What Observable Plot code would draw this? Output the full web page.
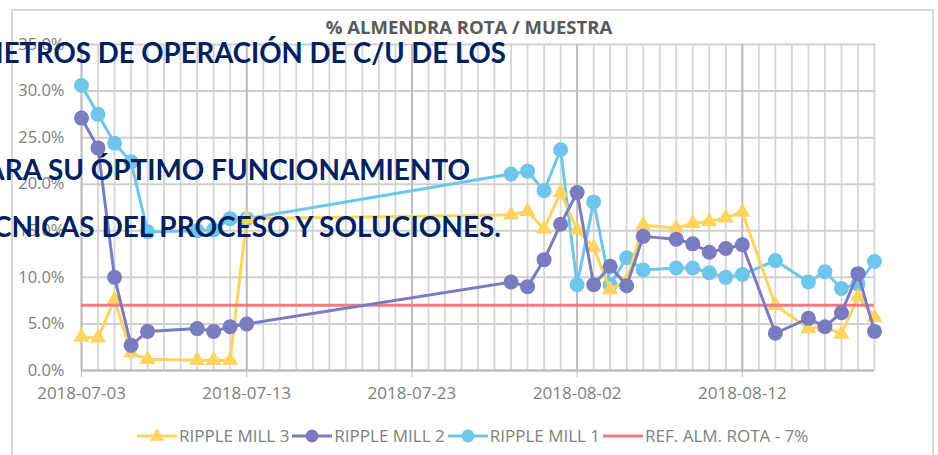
<!DOCTYPE html>
<html><head><meta charset="utf-8">
<script src="https://cdn.jsdelivr.net/npm/d3@7"></script>
<script src="https://cdn.jsdelivr.net/npm/@observablehq/plot@0.6"></script>
<style>
html,body{margin:0;padding:0;background:#fff;overflow:hidden}
#wrap{position:relative;width:938px;height:455px;overflow:hidden;font-family:"Open Sans",sans-serif}
#frame{position:absolute;left:11px;top:9px;width:923px;height:470px;border:2px solid #d9d9d9;box-sizing:border-box}
#chart{position:absolute;left:0;top:0}
#title{position:absolute;left:0;width:938px;top:16px;text-align:center;font-weight:700;font-size:18.5px;color:#595959;line-height:22px}
#legend{position:absolute;left:137px;top:426px;display:flex;align-items:center;font-size:17px;color:#7f7f7f;white-space:nowrap;line-height:20px}
#legend .item{display:flex;align-items:center;margin-right:3px}
#legend svg{display:block;margin-right:2px}
#overlay{position:absolute;left:0;top:0;pointer-events:none}
</style></head>
<body><div id="wrap"><div id="frame"></div><div id="title"></div><div id="chart"></div><div id="legend"></div><svg id="overlay" width="938" height="455"></svg></div>
<script>
// ---- data ----
const chartTitle = "% ALMENDRA ROTA / MUESTRA";
const overlayLines = ["PARÁMETROS DE OPERACIÓN DE C/U DE LOS", "PARA SU ÓPTIMO FUNCIONAMIENTO", "TÉCNICAS DEL PROCESO Y SOLUCIONES."];
const seriesNames = ["RIPPLE MILL 3", "RIPPLE MILL 2", "RIPPLE MILL 1", "REF. ALM. ROTA - 7%"];

const dates = ["2018-07-03","2018-07-04","2018-07-05","2018-07-06","2018-07-07","2018-07-10","2018-07-11","2018-07-12","2018-07-13",
  "2018-07-29","2018-07-30","2018-07-31","2018-08-01","2018-08-02","2018-08-03","2018-08-04","2018-08-05","2018-08-06",
  "2018-08-08","2018-08-09","2018-08-10","2018-08-11","2018-08-12","2018-08-14","2018-08-16","2018-08-17","2018-08-18","2018-08-19","2018-08-20"];
const rippleMill1 = [30.6,27.5,24.4,22.4,14.9,15.0,15.1,16.3,16.3, 21.1,21.4,19.3,23.7,9.2,18.1,9.2,12.1,10.8, 11.0,11.0,10.5,10.0,10.3,11.8,9.5,10.6,8.8,9.3,11.7];
const rippleMill2 = [27.1,23.9,10.0,2.7,4.2,4.5,4.2,4.7,5.0, 9.5,9.0,11.9,15.7,19.1,9.2,11.2,9.1,14.4, 14.1,13.6,12.7,13.1,13.5,4.0,5.6,4.7,6.2,10.4,4.2];
const rippleMill3 = [3.6,3.5,7.6,1.9,1.2,1.1,1.1,1.1,16.3, 16.7,17.1,15.2,19.1,15.1,13.2,8.7,9.6,15.6, 15.3,15.8,16.0,16.4,17.0,7.0,4.5,4.7,3.9,7.9,5.7];
const refValue = 7.0;
const refStart = "2018-07-03", refEnd = "2018-08-20";
const xDomain = ["2018-07-03", "2018-08-20"];
const xTickLabels = ["2018-07-03","2018-07-13","2018-07-23","2018-08-02","2018-08-12"];
const yTicks = [0,5,10,15,20,25,30,35];

// ---- build ----
const parse = d3.utcParse("%Y-%m-%d");
const fmt = d3.utcFormat("%Y-%m-%d");
const C3 = "#fbd462", C2 = "#7b7bbf", C1 = "#6ec7ea", CR = "#f07c80";
const rows = (vals) => dates.map((d, i) => ({date: parse(d), v: vals[i]}));
const d1 = rows(rippleMill1), d2 = rows(rippleMill2), d3r = rows(rippleMill3);
const dom = xDomain.map(parse);
const dayTicks = d3.utcDay.range(dom[0], d3.utcDay.offset(dom[1], 1));
const majorTicks = xTickLabels.map(parse);

const plot = Plot.plot({
  width: 938, height: 455,
  marginLeft: 81, marginRight: 64, marginTop: 44, marginBottom: 85,
  style: {fontFamily: "Open Sans", fontSize: "16.5px", color: "#808080", background: "transparent"},
  x: {type: "utc", domain: dom},
  y: {domain: [0, 35]},
  marks: [
    Plot.gridX(dayTicks, {stroke: "#d6d6d6", strokeOpacity: 1, strokeWidth: 1.8}),
    Plot.gridY(yTicks, {stroke: "#d0d0d0", strokeOpacity: 1, strokeWidth: 2}),
    Plot.gridX(majorTicks, {stroke: "#bababa", strokeOpacity: 1, strokeWidth: 1.8}),
    Plot.axisX({ticks: majorTicks, tickSize: 7, tickPadding: 9, tickFormat: fmt, stroke: "#bababa", fill: "#808080", fontSize: 17, label: null}),
    Plot.axisY({ticks: yTicks, tickSize: 0, tickPadding: 17, tickFormat: d => d.toFixed(1) + "%", fill: "#808080", label: null}),
    Plot.ruleY([0], {stroke: "#bababa", strokeWidth: 2}),
    Plot.line(d1, {x: "date", y: "v", stroke: C1, strokeWidth: 3}),
    Plot.dot(d1, {x: "date", y: "v", fill: C1, r: 7.5, symbol: "circle"}),
    Plot.line(d3r, {x: "date", y: "v", stroke: C3, strokeWidth: 3}),
    Plot.dot(d3r, {x: "date", y: "v", fill: C3, r: 6, symbol: "triangle"}),
    Plot.ruleY([refValue], {x1: parse(refStart), x2: parse(refEnd), stroke: CR, strokeWidth: 3}),
    Plot.line(d2, {x: "date", y: "v", stroke: C2, strokeWidth: 3}),
    Plot.dot(d2, {x: "date", y: "v", fill: C2, r: 7.5, symbol: "circle"})
  ]
});
document.getElementById("chart").appendChild(plot);
document.getElementById("title").textContent = chartTitle;

// legend
const legendColors = [C3, C2, C1, CR];
const legendSymbols = ["triangle", "circle", "circle", null];
const leg = document.getElementById("legend");
seriesNames.forEach((name, i) => {
  const item = document.createElement("div"); item.className = "item";
  const w = 40;
  let marker = "";
  if (legendSymbols[i] === "circle") marker = `<circle cx="${w/2}" cy="8" r="6.5" fill="${legendColors[i]}"/>`;
  if (legendSymbols[i] === "triangle") marker = `<path transform="translate(${w/2},8.5)" d="${d3.symbol(d3.symbolTriangle, 90)()}" fill="${legendColors[i]}"/>`;
  item.innerHTML = `<svg width="${w}" height="16"><line x1="0" x2="${w}" y1="8" y2="8" stroke="${legendColors[i]}" stroke-width="3"/>${marker}</svg><span>${name}</span>`;
  leg.appendChild(item);
});

// navy overlay text (right-aligned, clipped at the left edge as in the slide)
const ov = d3.select("#overlay");
const ends = [506, 470, 501], bases = [63, 180, 237], sizes = [27.6, 27.9, 28];
overlayLines.forEach((t, i) => {
  ov.append("text").attr("x", ends[i]).attr("y", bases[i]).attr("text-anchor", "end")
    .attr("font-family", "Lato, 'Open Sans', sans-serif").attr("font-weight", 700).attr("font-size", sizes[i])
    .attr("fill", "#002060").text(t);
});
</script></body></html>
